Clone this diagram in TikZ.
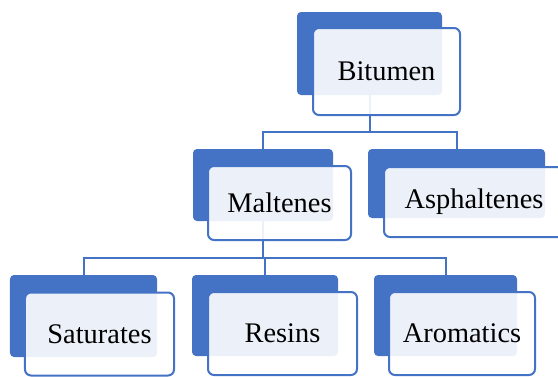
\documentclass[tikz,border=0pt]{standalone}
\usepackage{fontspec}
\setmainfont{Liberation Serif}
\definecolor{boxblue}{RGB}{68,114,196}
\tikzset{
    backbox/.style={fill=boxblue,rounded corners=4bp,inner sep=0pt},
    frontbox/.style={draw=boxblue,line width=2bp,fill=white,fill opacity=0.9,draw opacity=1,text opacity=1,rounded corners=6bp,inner sep=0pt,font=\fontsize{28.5}{32}\selectfont},
    link/.style={draw=boxblue,line width=2bp}
}
\begin{document}
\begin{tikzpicture}[x=1bp,y=-1bp]
                \useasboundingbox (0,0) rectangle (558,376);
                % back blocks
                \node[backbox,minimum width=145bp,minimum height=83bp] (bitB) at (369.5,53.5) {};
                \node[backbox,minimum width=140bp,minimum height=72bp] (malB) at (263,185) {};
                \node[backbox,minimum width=177bp,minimum height=69bp] (aspB) at (456.5,183.5) {};
                \node[backbox,minimum width=147bp,minimum height=82bp] (satB) at (83.5,316) {};
                \node[backbox,minimum width=146bp,minimum height=81bp] (resB) at (265,315.5) {};
                \node[backbox,minimum width=143bp,minimum height=81bp] (aroB) at (445.5,315.5) {};
                % connectors
                \coordinate (j1) at (369.5,132);
                \coordinate (j2) at (263,258);
                \draw[link] (bitB.south) -- (j1) -| (malB.north);
                \draw[link] (j1) -| (aspB.north);
                \draw[link] (malB.south) -- (j2) -| (satB.north);
                \draw[link] (j2) -| (aroB.north);
                \draw[link] (j2) -| (resB.north);
                % front blocks
                \node[frontbox,minimum width=147bp,minimum height=87bp] (bit) at (386.5,71.5) {Bitumen};
                \node[frontbox,minimum width=143bp,minimum height=74bp] (mal) at (279.5,203) {Maltenes};
                \node[frontbox,minimum width=180bp,minimum height=70bp] (asp) at (474,202) {Asphaltenes};
                \node[frontbox,minimum width=149bp,minimum height=83bp] (sat) at (99.5,334) {Saturates};
                \node[frontbox,minimum width=149bp,minimum height=83bp] (res) at (282.5,333.5) {Resins};
                \node[frontbox,minimum width=146bp,minimum height=83bp] (aro) at (462,333.5) {Aromatics};
\end{tikzpicture}
\end{document}
